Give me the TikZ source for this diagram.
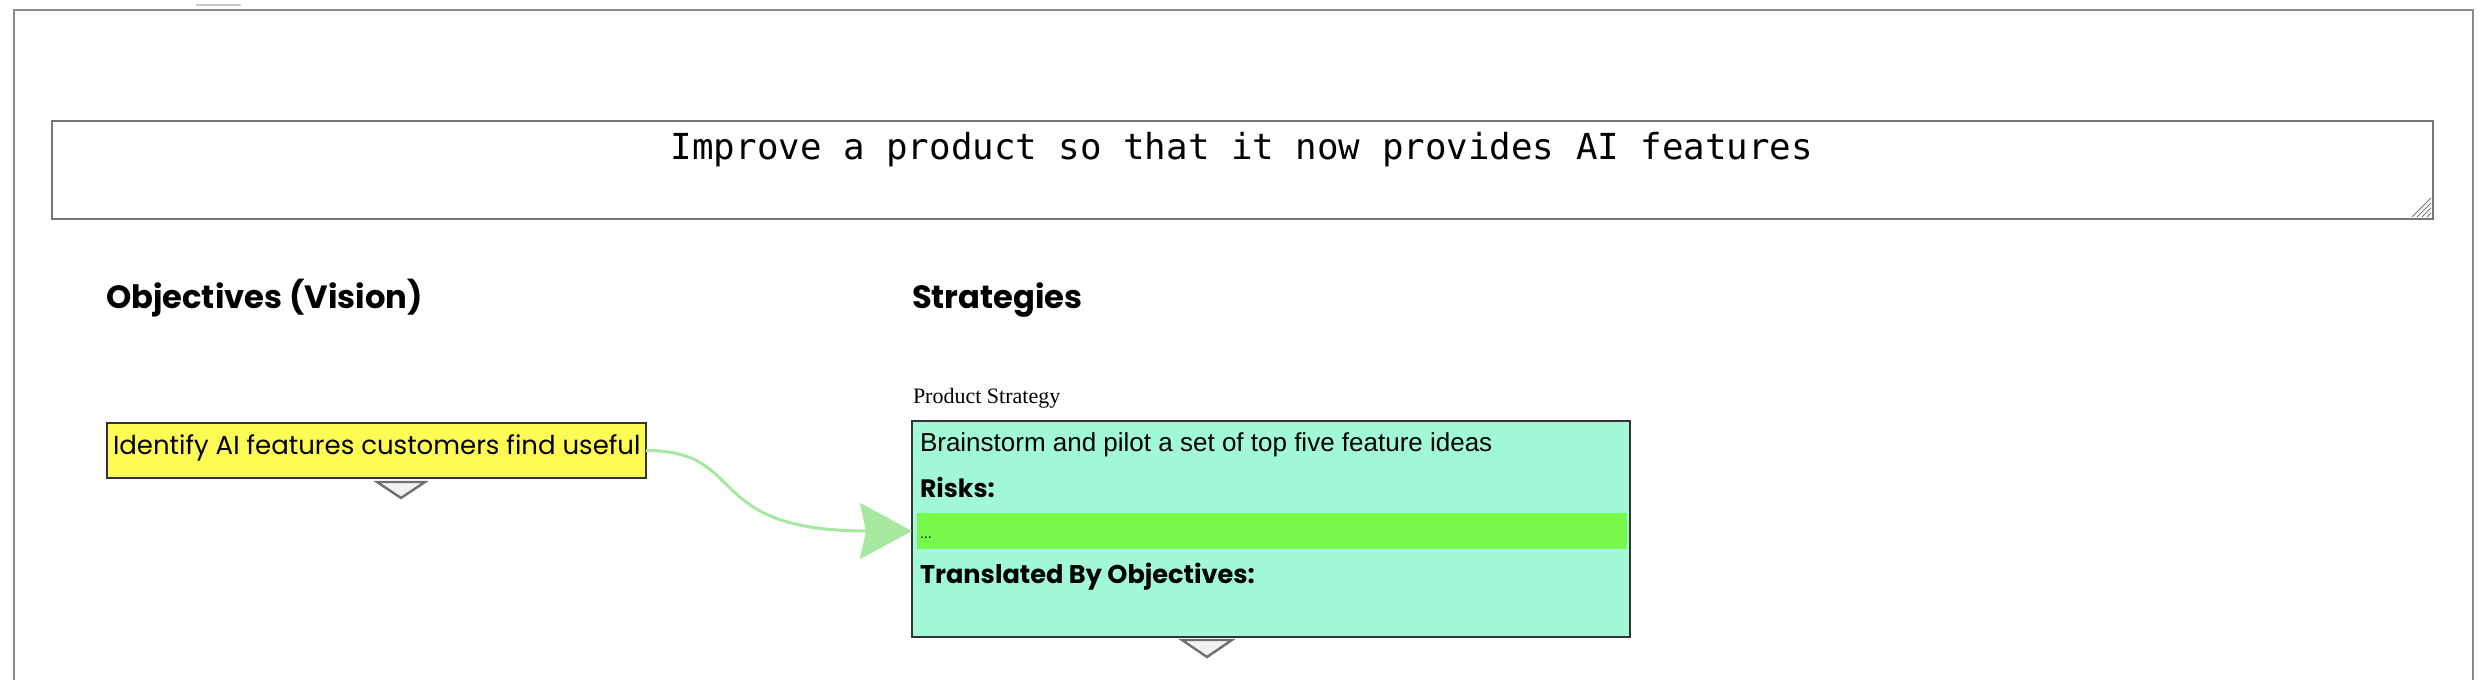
\documentclass[tikz,border=0pt]{standalone}
\usepackage{fontspec}
\usetikzlibrary{arrows.meta}

\newfontfamily\goalfont{DejaVu Sans Mono}
\newfontfamily\cardfont{Poppins}
\newfontfamily\plainfont{Liberation Sans}
\newfontfamily\capfont{Liberation Serif}

\definecolor{framegray}{HTML}{8A8A8A}
\definecolor{areagray}{HTML}{767676}
\definecolor{objyellow}{HTML}{FFFB55}
\definecolor{stratmint}{HTML}{A1F9D7}
\definecolor{riskgreen}{HTML}{77F84C}
\definecolor{linkgreen}{HTML}{A6E89F}
\definecolor{foldgray}{HTML}{707070}
\definecolor{foldfill}{HTML}{F2F2F2}

\tikzset{
  card/.style={draw=black!80, line width=0.6pt, inner sep=0pt, outer sep=0pt, anchor=north west},
  txt/.style={inner sep=0pt, outer sep=0pt, anchor=base west},
  fold/.style={draw=foldgray, fill=foldfill, line width=1.2pt},
  link/.style={draw=linkgreen, line width=1.5pt, -{Stealth[length=26pt,width=28pt,inset=3pt]}},
}

\begin{document}
\begin{tikzpicture}[x=0.5pt,y=0.5pt,yscale=-1,xscale=1]
\useasboundingbox (0,0) rectangle (2484,700);

%Shape: Frame
\draw[framegray, line width=1pt] (14,680) -- (14,10) -- (2473,10) -- (2473,680);
\draw[black!20, line width=1pt] (196,5) -- (241,5);

%Shape: Text area
\node[card, draw=areagray, minimum width=1190.5pt, minimum height=49pt] (goalbox) at (52,121) {};
\foreach \d in {4,9,14,19}
  \draw[areagray, line width=0.4pt] (2431-\d,217) -- (2431,217-\d);
% Text Node
\node[txt, anchor=base] (goal) at (1242,160) {\goalfont\fontsize{17.9}{20}\selectfont Improve a product so that it now provides AI features};

% Text Node
\node[txt] (objhead) at (106,308) {\cardfont\bfseries\fontsize{16.1}{20}\selectfont Objectives (Vision)};
% Text Node
\node[txt] (strathead) at (912,308) {\cardfont\bfseries\fontsize{16.1}{20}\selectfont Strategies};
% Text Node
\node[txt] (stratcap) at (913,403) {\capfont\fontsize{11}{13}\selectfont Product Strategy};

%Shape: Objective card
\node[card, fill=objyellow, minimum width=269.5pt, minimum height=27.5pt] (obj) at (107,423) {};
\node[txt] (objtxt) at (113,454) {\cardfont\fontsize{13}{15}\selectfont Identify AI features customers find useful};
\draw[fold] (377,482) -- (425,482) -- (401,498) -- cycle;

%Shape: Strategy card
\node[card, fill=stratmint, minimum width=359pt, minimum height=108pt] (strat) at (912,421) {};
\node[txt] (strattxt) at (920,451) {\plainfont\fontsize{13}{15}\selectfont Brainstorm and pilot a set of top five feature ideas};
\node[txt] (riskhead) at (920,497) {\cardfont\bfseries\fontsize{12.6}{14}\selectfont Risks:};
\node[anchor=north west, fill=riskgreen, inner sep=0pt, outer sep=0pt, minimum width=355pt, minimum height=18pt] (risk) at (917,513) {};
\node[txt] (risktxt) at (920,538) {\plainfont\fontsize{7}{8}\selectfont ...};
\node[txt] (transhead) at (920,583) {\cardfont\bfseries\fontsize{12.8}{14}\selectfont Translated By Objectives:};
\draw[fold] (1182,640) -- (1232,640) -- (1207,657) -- cycle;

%Straight Lines: link
\draw[link] (obj.east) .. controls +(104,0) and +(-212,0) .. (strat.west |- risk.west);

\end{tikzpicture}
\end{document}
